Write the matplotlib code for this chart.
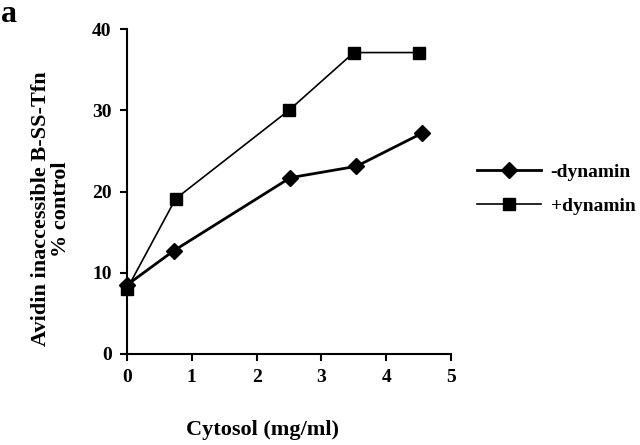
import matplotlib
matplotlib.use('Agg')
import matplotlib.pyplot as plt
from matplotlib.lines import Line2D

# data
cyto_minus = [0, 0.72, 2.52, 3.54, 4.56]
minus_dyn = [8.5, 12.7, 21.7, 23.1, 27.2]
cyto_plus = [0, 0.75, 2.5, 3.5, 4.5]
plus_dyn = [8.0, 19.1, 30.0, 37.1, 37.1]
xticks = [0, 1, 2, 3, 4, 5]
yticks = [0, 10, 20, 30, 40]

plt.rcParams['font.family'] = 'Liberation Serif'
plt.rcParams['font.weight'] = 'bold'

fig = plt.figure(figsize=(6.4, 4.45), dpi=100)
W, H = 640, 445
ax = fig.add_axes([127 / W, 1 - 354 / H, (451 - 127) / W, (354 - 29) / H])

ax.plot(cyto_minus, minus_dyn, color='black', lw=2.0, marker='D', ms=8, clip_on=False)
ax.plot(cyto_plus, plus_dyn, color='black', lw=1.2, marker='s', ms=8, clip_on=False)

ax.set_xlim(0, 5)
ax.set_ylim(0, 40)
ax.set_xticks(xticks)
ax.set_yticks(yticks)
for s in ['top', 'right']:
    ax.spines[s].set_visible(False)
for s in ['left', 'bottom']:
    ax.spines[s].set_linewidth(1.5)
ax.tick_params(direction='out', length=5, width=1.5, labelsize=14, pad=6)
for lb in ax.get_xticklabels() + ax.get_yticklabels():
    lb.set_fontweight('bold')

fig.text(263 / W, 1 - 430 / H, 'Cytosol (mg/ml)', ha='center', va='center',
         fontsize=16, fontweight='bold')
fig.text(51 / W, 1 - 209 / H, 'Avidin inaccessible B-SS-Tfn\n% control', ha='center',
         va='center', rotation=90, fontsize=16, fontweight='bold', linespacing=1.05)
fig.text(1 / W, 1 - 14 / H, 'a', ha='left', va='center', fontsize=23, fontweight='bold')

handles = [Line2D([], [], color='black', lw=2.0, marker='D', ms=8),
           Line2D([], [], color='black', lw=1.2, marker='s', ms=8)]
fig.legend(handles, ['-dynamin', '+dynamin'], loc='center left',
           bbox_to_anchor=(471 / W, 1 - 189 / H), frameon=False,
           handlelength=3.3, handletextpad=0.5, labelspacing=0.85,
           borderaxespad=0, borderpad=0.3,
           prop={'weight': 'bold', 'size': 14})

fig.savefig('out.png', dpi=100)
